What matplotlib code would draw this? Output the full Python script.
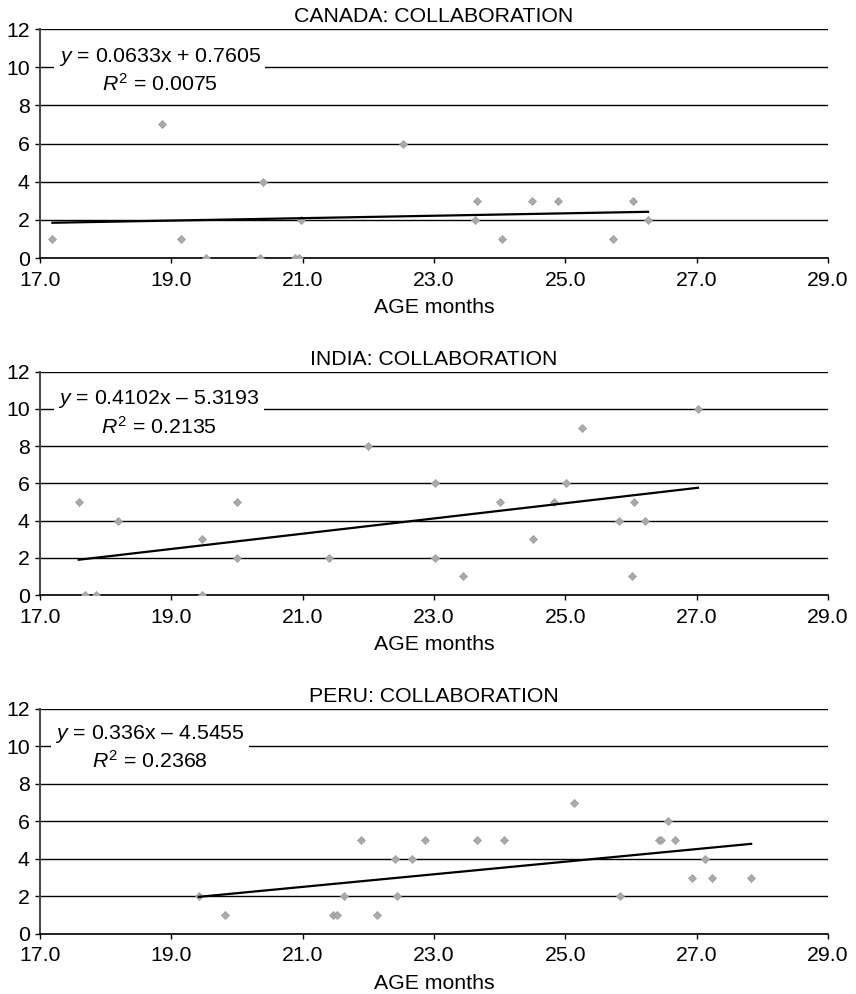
import matplotlib
matplotlib.use("Agg")
import matplotlib.pyplot as plt

plt.rcParams["font.family"] = "Liberation Sans"
plt.rcParams["font.size"] = 15.3
plt.rcParams["mathtext.fontset"] = "custom"
plt.rcParams["mathtext.rm"] = "Liberation Sans"
plt.rcParams["mathtext.it"] = "Liberation Sans:italic"

# data
canada_x = [17.19, 18.86, 19.15, 19.53, 20.35, 20.39, 20.88, 20.95, 20.98, 22.53,
            23.63, 23.66, 24.03, 24.49, 24.89, 25.73, 26.03, 26.26]
canada_y = [1, 7, 1, 0, 0, 4, 0, 0, 2, 6, 2, 3, 1, 3, 3, 1, 3, 2]

india_x = [17.59, 17.69, 17.86, 18.19, 19.46, 19.46, 20.0, 20.0, 21.40, 22.0,
           23.01, 23.01, 23.44, 24.01, 24.51, 24.82, 25.01, 25.25, 25.82, 26.02,
           26.05, 26.22, 27.02]
india_y = [5, 0, 0, 4, 3, 0, 5, 2, 2, 8, 6, 2, 1, 5, 3, 5, 6, 9, 4, 1, 5, 4, 10]

peru_x = [19.42, 19.82, 21.46, 21.52, 21.63, 21.89, 22.13, 22.40, 22.43, 22.67,
          22.86, 23.66, 24.07, 25.13, 25.83, 26.42, 26.46, 26.56, 26.67, 26.93,
          27.13, 27.24, 27.83]
peru_y = [2, 1, 1, 1, 2, 5, 1, 4, 2, 4, 5, 5, 5, 7, 2, 5, 5, 6, 5, 3, 4, 3, 3]

titles = ["CANADA: COLLABORATION", "INDIA: COLLABORATION", "PERU: COLLABORATION"]
slopes = [0.0633, 0.4102, 0.336]
intercepts = [0.7605, -5.3193, -4.5455]
eq_labels = ["$y$ = 0.0633x + 0.7605\n$R^2$ = 0.0075",
             "$y$ = 0.4102x \u2013 5.3193\n$R^2$ = 0.2135",
             "$y$ = 0.336x \u2013 4.5455\n$R^2$ = 0.2368"]
xs = [canada_x, india_x, peru_x]
ys = [canada_y, india_y, peru_y]

x_ticks = [17, 19, 21, 23, 25, 27, 29]
y_ticks = [0, 2, 4, 6, 8, 10, 12]

fig = plt.figure(figsize=(8.56, 9.94), dpi=100)
boxes = [[0.0467, 0.7404, 0.9206, 0.2304],
         [0.0467, 0.4014, 0.9206, 0.2246],
         [0.0467, 0.0604, 0.9206, 0.2264]]
eq_pos = [(0.152, 0.82), (0.151, 0.815), (0.14, 0.83)]

for i in range(3):
    ax = fig.add_axes(boxes[i])
    ax.set_xlim(17, 29)
    ax.set_ylim(0, 12)
    ax.set_xticks(x_ticks)
    ax.set_xticklabels(["%.1f" % t for t in x_ticks])
    ax.set_yticks(y_ticks)
    ax.yaxis.grid(True, color="black", linewidth=1.0)
    ax.set_axisbelow(True)
    for s in ["top", "right"]:
        ax.spines[s].set_visible(False)
    ax.spines["left"].set_color("#444444")
    ax.spines["left"].set_linewidth(1.4)
    ax.spines["bottom"].set_linewidth(1.2)
    ax.tick_params(direction="out", length=3.5, width=1.0)
    ax.tick_params(axis="x", pad=5.5)
    ax.tick_params(axis="y", pad=4)

    ax.plot(xs[i], ys[i], linestyle="none", marker="D", markersize=4.4,
            color="#a9a9ae", markeredgecolor="#9a9a9f", markeredgewidth=0.5,
            zorder=3)
    x0, x1 = min(xs[i]), max(xs[i])
    ax.plot([x0, x1], [slopes[i] * x0 + intercepts[i], slopes[i] * x1 + intercepts[i]],
            color="black", linewidth=1.6, zorder=4)

    ax.text(eq_pos[i][0], eq_pos[i][1], eq_labels[i], transform=ax.transAxes,
            ha="center", va="center", multialignment="center", linespacing=1.3,
            bbox=dict(facecolor="white", edgecolor="none", pad=3), zorder=5)

    ax.set_title(titles[i], fontsize=15.3, pad=5)
    ax.set_xlabel("AGE months", fontsize=15.3, labelpad=6)

fig.savefig("out.png", dpi=100)
